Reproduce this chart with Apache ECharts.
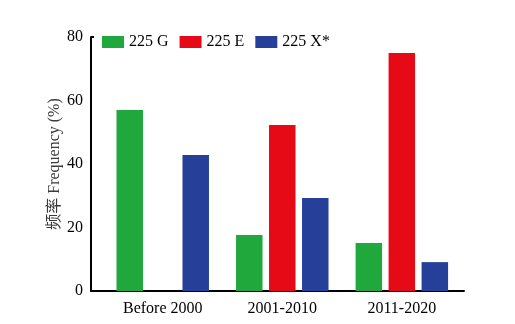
<!DOCTYPE html>
<html>
<head>
<meta charset="utf-8">
<script src="https://cdn.jsdelivr.net/npm/echarts@6/dist/echarts.min.js"></script>
<style>
  html, body { margin: 0; padding: 0; background: #fff; }
  #chart { width: 515px; height: 324px; }
</style>
</head>
<body>
<div id="chart"></div>
<script>
// Period groups on the x axis
const categories = ['Before 2000', '2001-2010', '2011-2020'];
// Frequency (%) of each variant per period
const g225 = [57.0, 17.6, 15.1];
const e225 = [0, 52.3, 75.0];
const x225 = [42.8, 29.3, 9.1];
const seriesNames = ['225 G', '225 E', '225 X*'];
const yTicks = [0, 20, 40, 60, 80];

const FONT = '"Liberation Serif", "Times New Roman", "Noto Sans CJK SC", serif';
const colors = ['#20a83c', '#e60a16', '#26409a'];

// Groups sit at x = 1, 2, 3 on a numeric axis so the frame can extend past them
const toPairs = arr => arr.map((v, i) => [i + 1, v]);

const chart = echarts.init(document.getElementById('chart'), null, { renderer: 'canvas' });
chart.setOption({
  animation: false,
  backgroundColor: '#fff',
  color: colors,
  textStyle: { fontFamily: FONT },
  legend: {
    left: 102,
    top: 34,
    padding: 0,
    itemWidth: 22,
    itemHeight: 12,
    itemGap: 11,
    icon: 'rect',
    data: seriesNames,
    textStyle: { fontFamily: FONT, fontSize: 16, color: '#000' }
  },
  grid: { left: 91, right: 51, top: 37, bottom: 33, containLabel: false },
  xAxis: {
    type: 'value',
    min: 0.4,
    max: 3.52,
    splitLine: { show: false },
    axisLine: { show: true, onZero: false, lineStyle: { color: '#000', width: 2 } },
    axisTick: { show: false },
    axisLabel: {
      customValues: [1, 2, 3],
      formatter: v => categories[Math.round(v) - 1] || '',
      fontFamily: FONT,
      fontSize: 16,
      color: '#000',
      margin: 10
    }
  },
  yAxis: {
    type: 'value',
    min: yTicks[0],
    max: yTicks[yTicks.length - 1],
    interval: 20,
    name: '频率 Frequency (%)',
    nameLocation: 'middle',
    nameGap: 28,
    nameMoveOverlap: false,
    nameTextStyle: { fontFamily: FONT, fontSize: 16, color: '#3a3a3a' },
    splitLine: { show: false },
    axisLine: { show: true, lineStyle: { color: '#000', width: 2 } },
    axisTick: {
      show: true,
      inside: true,
      length: 3,
      customValues: [80],
      lineStyle: { color: '#000', width: 2 }
    },
    axisLabel: {
      fontFamily: FONT,
      fontSize: 16,
      color: '#000',
      margin: 8
    }
  },
  series: [
    { name: seriesNames[0], type: 'bar', data: toPairs(g225), barWidth: 26.5, barGap: '24.5%' },
    { name: seriesNames[1], type: 'bar', data: toPairs(e225), barWidth: 26.5, barGap: '24.5%' },
    { name: seriesNames[2], type: 'bar', data: toPairs(x225), barWidth: 26.5, barGap: '24.5%' }
  ]
});
</script>
</body>
</html>
